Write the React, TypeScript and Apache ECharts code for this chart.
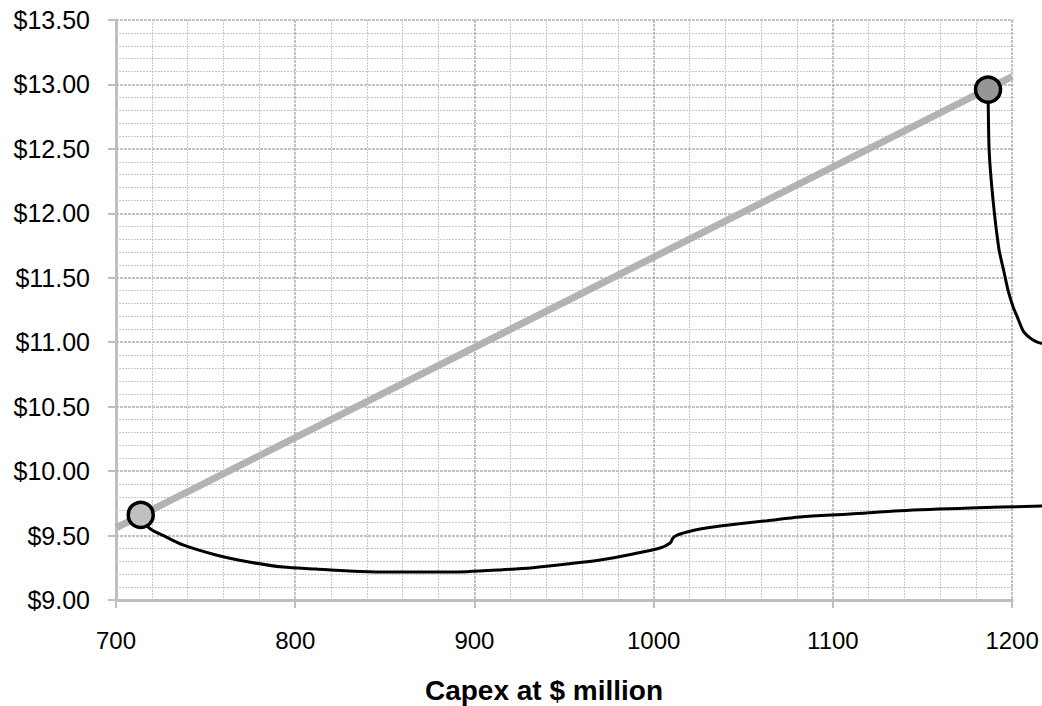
import React, { useEffect, useRef } from "react";
import * as echarts from "echarts";

// Capex ($ million) vs price ($)
const trendX = [700, 1200];
const trendY = [9.56, 13.06];

const lowCurveX = [713.8, 718.4, 727.9, 737.4, 755.8, 774.2, 793.2, 811.6, 830.0, 849.0, 867.4, 895.9, 914.3, 932.7, 951.7, 970.1, 988.5, 1003.6, 1009.2, 1010.8, 1013.1, 1018.6, 1025.9, 1037.1, 1063.3, 1081.7, 1109.6, 1137.5, 1176.6, 1216.7];
const lowCurveY = [9.66, 9.56, 9.49, 9.427, 9.349, 9.295, 9.256, 9.241, 9.225, 9.217, 9.217, 9.22, 9.233, 9.251, 9.279, 9.31, 9.357, 9.403, 9.442, 9.481, 9.504, 9.528, 9.551, 9.574, 9.615, 9.644, 9.667, 9.693, 9.714, 9.729];

const highCurveX = [1186.6, 1187.2, 1189.4, 1192.7, 1195.5, 1197.8, 1200.6, 1202.8, 1206.1, 1210.0, 1213.4, 1216.7];
const highCurveY = [12.96, 12.49, 12.1, 11.72, 11.545, 11.4, 11.273, 11.2, 11.09, 11.033, 11.005, 10.99];

const pointLow = [713.8, 9.66];
const pointHigh = [1186.6, 12.96];

const xTickLabels = [700, 800, 900, 1000, 1100, 1200];
const xTicks = { min: 700, max: 1216.7, interval: 100 };
const yTicks = { min: 9, max: 13.5, interval: 0.5 };

const zip = (xs: number[], ys: number[]) => xs.map((x, i) => [x, ys[i]]);

export default function App() {
  const ref = useRef<HTMLDivElement>(null);
  useEffect(() => {
    if (!ref.current) return;
    const chart = echarts.init(ref.current, undefined, { renderer: "svg" });
    const font = "'Liberation Sans', Arial, sans-serif";
    chart.setOption({
      animation: false,
      grid: { left: 116, right: 0, top: 20, bottom: 106 },
      xAxis: {
        type: "value",
        min: xTicks.min,
        max: xTicks.max,
        interval: xTicks.interval,
        axisLine: { show: true, lineStyle: { color: "#bfbfbf", width: 3 } },
        axisTick: { show: true, length: 8, lineStyle: { color: "#bfbfbf", width: 2 } },
        axisLabel: {
          color: "#000",
          fontSize: 24,
          fontFamily: font,
          margin: 28,
          showMaxLabel: false,
          formatter: (v: number) => (xTickLabels.includes(v) ? String(v) : ""),
        },
        splitLine: { show: true, lineStyle: { color: "#b0b0b0", width: 1.5, type: [3, 1] } },
        minorTick: { show: false, splitNumber: 5 },
        minorSplitLine: { show: true, lineStyle: { color: "#c8c8c8", width: 1, type: [2, 1] } },
      },
      yAxis: {
        type: "value",
        min: yTicks.min,
        max: yTicks.max,
        interval: yTicks.interval,
        axisLine: { show: true, lineStyle: { color: "#bfbfbf", width: 3 } },
        axisTick: { show: true, length: 8, lineStyle: { color: "#bfbfbf", width: 2 } },
        axisLabel: {
          color: "#000",
          fontSize: 25,
          fontFamily: font,
          margin: 26,
          formatter: (v: number) => "$" + v.toFixed(2),
        },
        splitLine: { show: true, lineStyle: { color: "#b0b0b0", width: 1.5, type: [3, 1] } },
        minorTick: { show: false, splitNumber: 5 },
        minorSplitLine: { show: true, lineStyle: { color: "#c8c8c8", width: 1, type: [2, 1] } },
      },
      graphic: [
        {
          type: "rect",
          z: 1,
          shape: { x: 1013.5, y: 0, width: 40, height: 612 },
          style: { fill: "#fff" },
        },
        {
          type: "text",
          x: 544,
          y: 690,
          style: {
            text: "Capex at $ million",
            font: "bold 28px 'Liberation Sans', Arial, sans-serif",
            fill: "#000",
            textAlign: "center",
            textVerticalAlign: "middle",
          },
        },
      ],
      series: [
        {
          type: "line",
          data: zip(trendX, trendY),
          showSymbol: false,
          clip: false,
          lineStyle: { color: "#b3b3b3", width: 7 },
          z: 2,
        },
        {
          type: "line",
          data: zip(lowCurveX, lowCurveY),
          showSymbol: false,
          smooth: 0.3,
          clip: false,
          lineStyle: { color: "#000", width: 3 },
          z: 3,
        },
        {
          type: "line",
          data: zip(highCurveX, highCurveY),
          showSymbol: false,
          smooth: 0.2,
          clip: false,
          lineStyle: { color: "#000", width: 3, join: "round" },
          z: 3,
        },
        {
          type: "scatter",
          data: [pointLow],
          symbolSize: 25,
          clip: false,
          itemStyle: { color: "#c0c0c0", borderColor: "#000", borderWidth: 3.5, opacity: 1 },
          z: 4,
        },
        {
          type: "scatter",
          data: [pointHigh],
          symbolSize: 25,
          clip: false,
          itemStyle: { color: "#969696", borderColor: "#000", borderWidth: 3.5, opacity: 1 },
          z: 4,
        },
      ],
    });
    return () => chart.dispose();
  }, []);
  return (
    <div
      ref={ref}
      style={{ position: "absolute", left: 0, top: 0, width: 1042, height: 706, background: "#fff" }}
    />
  );
}
